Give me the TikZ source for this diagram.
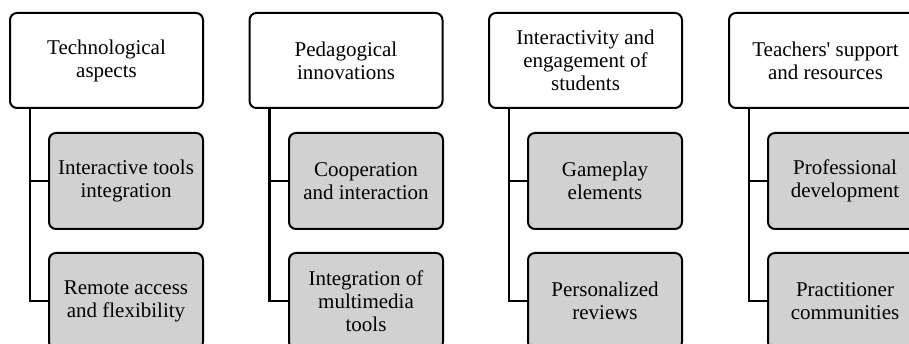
\documentclass[tikz,border=0pt]{standalone}
\usepackage{fontspec}
\setmainfont{Liberation Serif}
\begin{document}
\begin{tikzpicture}[x=1pt,y=-1pt,
  topbox/.style={draw=black,line width=2pt,rounded corners=7pt,fill=white,
    minimum width=193pt,minimum height=95pt,align=center,inner sep=2pt,
    font=\fontsize{21}{23}\selectfont},
  subbox/.style={draw=black,line width=2pt,rounded corners=7pt,fill=black!18,
    minimum width=154pt,minimum height=96pt,align=center,inner sep=2pt,
    font=\fontsize{21}{23}\selectfont},
  conn/.style={draw=black,line width=2.6pt}]
\clip (0,0) rectangle (909,344);
\fill[white] (0,0) rectangle (909,344);
% column 1
\node[topbox] (t1) at (106.5,60.5) {Technological\\aspects};
\node[subbox] (a1) at (126,181) {Interactive tools\\integration};
\node[subbox] (b1) at (126,301) {Remote access\\and flexibility};
% column 2
\node[topbox] (t2) at (346,60.5) {Pedagogical\\innovations};
\node[subbox] (a2) at (366,181) {Cooperation\\and interaction};
\node[subbox] (b2) at (366,301) {Integration of\\multimedia\\tools};
% column 3
\node[topbox] (t3) at (585.5,60.5) {Interactivity and\\engagement of\\students};
\node[subbox] (a3) at (605,181) {Gameplay\\elements};
\node[subbox] (b3) at (605,301) {Personalized\\reviews};
% column 4
\node[topbox] (t4) at (825.5,60.5) {Teachers\textquotesingle\ support\\and resources};
\node[subbox] (a4) at (845,181) {Professional\\development};
\node[subbox] (b4) at (845,301) {Practitioner\\communities};
% connectors
\foreach \i in {1,2,3,4}{
  \draw[conn] ([xshift=21pt]t\i.south west) |- (b\i.west);
  \draw[conn] ([xshift=21pt]t\i.south west) |- (a\i.west);
}
\end{tikzpicture}
\end{document}
